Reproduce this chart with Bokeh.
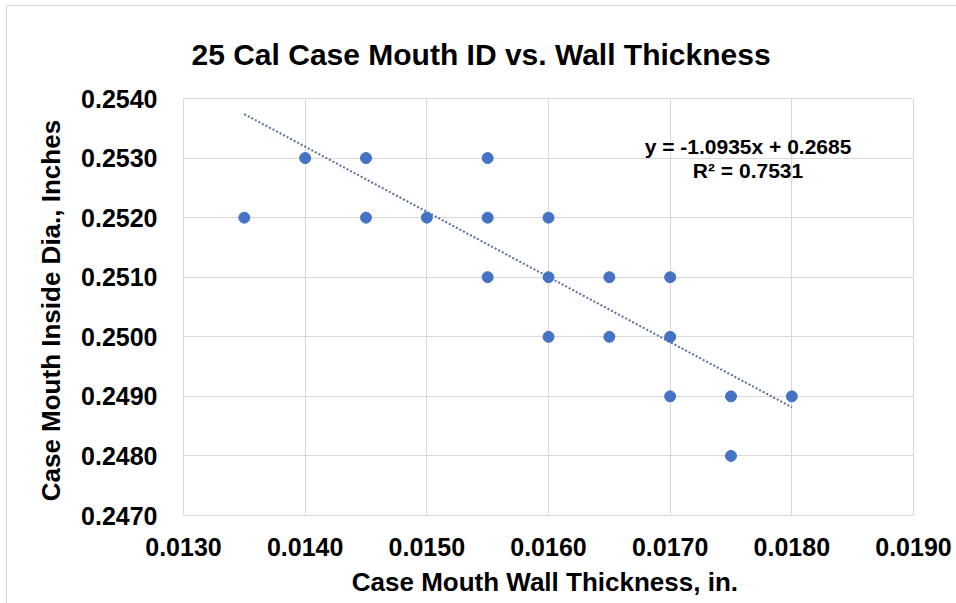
from bokeh.plotting import figure
from bokeh.models import Range1d, FixedTicker, NumeralTickFormatter, ColumnDataSource
from bokeh.core.properties import value
from bokeh.embed import file_html
from bokeh.resources import INLINE

# ---- data ----
wall_thickness = [0.0135, 0.0140, 0.0145, 0.0145, 0.0150, 0.0155, 0.0155, 0.0155,
                  0.0160, 0.0160, 0.0160, 0.0165, 0.0165, 0.0170, 0.0170, 0.0170,
                  0.0175, 0.0175, 0.0180]
mouth_id = [0.2520, 0.2530, 0.2530, 0.2520, 0.2520, 0.2530, 0.2520, 0.2510,
            0.2520, 0.2510, 0.2500, 0.2510, 0.2500, 0.2510, 0.2500, 0.2490,
            0.2490, 0.2480, 0.2490]
trend_slope = -1.0935
trend_intercept = 0.2685
r_squared = 0.7531
x_ticks = [0.0130, 0.0140, 0.0150, 0.0160, 0.0170, 0.0180, 0.0190]
y_ticks = [0.2470, 0.2480, 0.2490, 0.2500, 0.2510, 0.2520, 0.2530, 0.2540]

title_text = "25 Cal Case Mouth ID vs. Wall Thickness"
x_label = "Case Mouth  Wall Thickness, in."
y_label = "Case Mouth  Inside Dia., Inches"

SANS = "Liberation Sans"
BLUE = "#4472C4"
GRID = "#d9d9d9"

p = figure(width=949, height=597, output_backend="svg", toolbar_location=None,
           x_range=Range1d(x_ticks[0], x_ticks[-1]),
           y_range=Range1d(y_ticks[0], y_ticks[-1]),
           min_border_left=176, min_border_top=92, min_border_right=43,
           min_border_bottom=88, margin=(6, 0, 0, 7),
           styles={"outline": "1px solid #d9d9d9"})

p.title.text = title_text
p.title.text_font = SANS
p.title.text_font_style = "bold"
p.title.text_font_size = "30px"
p.title.text_color = "#000000"
p.title.align = "left"
p.title.offset = 8
p.title.standoff = 55

for ax in (p.xaxis[0], p.yaxis[0]):
    ax.axis_line_color = None
    ax.major_tick_line_color = None
    ax.minor_tick_line_color = None
    ax.major_tick_out = 0
    ax.major_tick_in = 0
    ax.minor_tick_out = 0
    ax.minor_tick_in = 0
    ax.major_label_text_font = SANS
    ax.major_label_text_font_style = "bold"
    ax.major_label_text_font_size = "25px"
    ax.major_label_text_color = "#000000"
    ax.axis_label_text_font = SANS
    ax.axis_label_text_font_style = "bold"
    ax.axis_label_text_font_size = "26px"
    ax.axis_label_text_color = "#000000"
    ax.formatter = NumeralTickFormatter(format="0.0000")

p.xaxis.ticker = FixedTicker(ticks=x_ticks)
p.yaxis.ticker = FixedTicker(ticks=y_ticks)
p.xaxis.axis_label = x_label
p.yaxis.axis_label = y_label
p.xaxis.major_label_standoff = 22
p.yaxis.major_label_standoff = 26
p.xaxis.axis_label_standoff = 8
p.yaxis.axis_label_standoff = 12

p.xgrid.ticker = FixedTicker(ticks=x_ticks)
p.ygrid.ticker = FixedTicker(ticks=y_ticks)
p.grid.grid_line_color = GRID
p.grid.grid_line_width = 1
p.outline_line_color = GRID
p.outline_line_width = 1
p.background_fill_color = "white"
p.border_fill_color = "white"

# linear trendline over the data's x extent
x0, x1 = min(wall_thickness), max(wall_thickness)
p.line([x0, x1], [trend_slope * x0 + trend_intercept, trend_slope * x1 + trend_intercept],
       line_color="#56709f", line_width=2, line_dash="2 2")

src = ColumnDataSource(dict(x=wall_thickness, y=mouth_id))
p.scatter("x", "y", source=src, size=11, fill_color=BLUE, line_color=BLUE)

# equation label (Excel-style trendline label)
eq_x = 0.01764
p.text([eq_x], [0.25320], text=[f"y = {trend_slope:.4f}x + {trend_intercept:.4f}"],
       text_align="center", text_baseline="middle", text_font=value(SANS),
       text_font_style="bold", text_font_size="21px", text_color="#000000")
p.text([eq_x], [0.25279], text=[f"R\u00b2 = {r_squared:.4f}"],
       text_align="center", text_baseline="middle", text_font=value(SANS),
       text_font_style="bold", text_font_size="21px", text_color="#000000")

open("out.html", "w").write(file_html(p, INLINE))
